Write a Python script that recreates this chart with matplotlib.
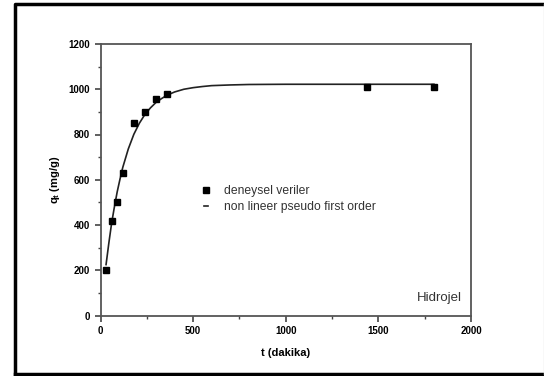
import matplotlib.pyplot as plt
from matplotlib.lines import Line2D
from matplotlib.ticker import MultipleLocator

plt.rcParams['font.family'] = ['Liberation Sans', 'DejaVu Sans']

# experimental data
t_exp = [30, 60, 90, 120, 180, 240, 300, 360, 1440, 1800]
q_exp = [200, 418, 500, 628, 852, 900, 955, 978, 1008, 1010]

# fitted curve
t_fit = [30, 45, 60, 75, 90, 105, 120, 150, 180, 210, 240, 270, 300, 330, 360,
         400, 450, 500, 550, 600, 700, 800, 1000, 1200, 1500, 1800]
q_fit = [225, 320, 408, 480, 546, 602, 654, 736, 801, 850, 889, 918, 942, 959, 974,
         988, 1000, 1007, 1012, 1016, 1019, 1021, 1022, 1022, 1022, 1022]

fig = plt.figure(figsize=(5.44, 3.76), dpi=100)
ax = fig.add_axes([100.5 / 544, 1 - 315.5 / 376, 370.5 / 544, 271.5 / 376])

ax.plot(t_fit, q_fit, '-', color='#222222', lw=1.2,
        label='non lineer pseudo first order')
ax.plot(t_exp, q_exp, 's', color='black', ms=4.5, ls='none',
        label='deneysel veriler')

ax.set_xlim(0, 2000)
ax.set_ylim(0, 1200)
ax.xaxis.set_major_locator(MultipleLocator(500))
ax.xaxis.set_minor_locator(MultipleLocator(250))
ax.yaxis.set_major_locator(MultipleLocator(200))
ax.yaxis.set_minor_locator(MultipleLocator(100))
ax.tick_params(which='both', direction='out', top=False, right=False,
               color='#444444', labelsize=7)
ax.tick_params(which='major', length=4, width=1.2)
ax.tick_params(which='minor', length=2.5, width=1.0)
for lab in ax.get_xticklabels() + ax.get_yticklabels():
    lab.set_fontweight('bold')
for s in ax.spines.values():
    s.set_color('#555555')
    s.set_linewidth(1.3)

ax.set_xlabel('t (dakika)', fontsize=8, fontweight='bold', labelpad=9)
ax.set_ylabel(r'q$_\mathregular{t}$ (mg/g)', fontsize=8, fontweight='bold', labelpad=5)

handles, labels = ax.get_legend_handles_labels()
ax.legend(handles[::-1], labels[::-1], loc='upper left',
          bbox_to_anchor=(0.25, 0.52), frameon=False, fontsize=8.7,
          handlelength=0.35, handletextpad=1.3, labelspacing=0.35,
          labelcolor='#333333')

ax.text(0.975, 0.066, 'Hidrojel', transform=ax.transAxes, ha='right',
        va='center', fontsize=9.5, color='#333333')

# outer frame of the picture
fx = [14.5 / 544, 14.5 / 544, 543 / 544]
fy = [1 - 373.5 / 376, 1 - 3.5 / 376, 1 - 3.5 / 376]
fig.add_artist(Line2D(fx, fy, color='black', lw=2.5, transform=fig.transFigure))
fig.add_artist(Line2D([14.5 / 544, 543 / 544], [1 - 373.5 / 376] * 2,
                      color='black', lw=2.5, transform=fig.transFigure))
fig.add_artist(Line2D([543.5 / 544] * 2, [1 - 3.5 / 376, 1 - 373.5 / 376],
                      color='#dddddd', lw=1, transform=fig.transFigure))

fig.savefig('out.png', dpi=100)
